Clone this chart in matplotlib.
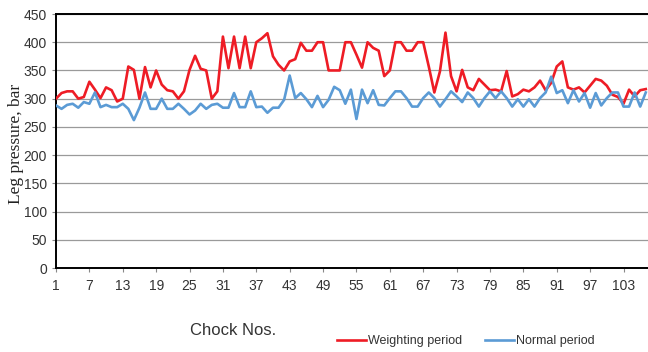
import matplotlib.pyplot as plt

# leg pressure per chock
chocks = list(range(1, 108))
weighting = [300, 310, 313, 313, 300, 303, 330, 316, 301, 320, 315, 295, 300, 357, 351, 300, 356, 320, 350, 325,
             315, 313, 300, 313, 351, 376, 353, 350, 300, 313, 410, 354, 410, 354, 410, 354, 400, 407, 416, 375,
             360, 350, 366, 370, 399, 385, 385, 400, 400, 350, 350, 350, 400, 400, 378, 355, 400, 390, 385, 340,
             350, 400, 400, 385, 385, 400, 400, 357, 311, 348, 417, 340, 313, 351, 320, 315, 335, 325, 315, 316,
             313, 349, 304, 308, 316, 313, 320, 332, 315, 328, 357, 366, 320, 316, 320, 311, 323, 335, 332, 323,
             307, 303, 291, 316, 304, 315, 317]
normal = [288, 282, 289, 291, 284, 294, 291, 311, 285, 289, 285, 285, 291, 282, 262, 284, 311, 282, 282, 300,
          282, 282, 291, 282, 272, 279, 291, 282, 289, 291, 284, 284, 310, 285, 285, 313, 285, 286, 275, 284,
          284, 298, 341, 301, 310, 299, 285, 305, 285, 298, 321, 315, 291, 316, 264, 316, 292, 315, 289, 288,
          301, 313, 313, 301, 286, 286, 301, 311, 301, 286, 299, 313, 304, 294, 311, 301, 286, 301, 313, 301,
          313, 301, 286, 299, 286, 299, 286, 301, 311, 339, 310, 315, 292, 315, 295, 310, 284, 310, 288, 301,
          311, 311, 286, 286, 311, 286, 311]
xticks = list(range(1, 108, 6))

plt.rcParams['font.family'] = ['Liberation Sans', 'DejaVu Sans']

fig = plt.figure(figsize=(6.48, 3.52), dpi=100)
ax = fig.add_axes([0.0864, 0.2386, 0.9136, 0.7216])

ax.plot(chocks, weighting, color='#ee1c25', lw=1.9, label='Weighting period', zorder=3)
ax.plot(chocks, normal, color='#5b9bd5', lw=1.9, label='Normal period', zorder=3)

ax.set_xlim(1, 107.4)
ax.set_ylim(0, 450)
ax.set_yticks(range(0, 451, 50))
ax.set_xticks(xticks)
ax.tick_params(labelsize=10, length=3, color='#888888', colors='#333333')
ax.tick_params(axis='x', pad=5)
ax.yaxis.grid(True, color='#9a9a9a', lw=0.9)
ax.set_axisbelow(True)
for s in ['left', 'bottom', 'top']:
    ax.spines[s].set_linewidth(1.4)
    ax.spines[s].set_color('black')
ax.spines['right'].set_visible(False)

fig.text(0.024, 0.59, 'Leg pressure, bar', family=['Liberation Serif', 'DejaVu Serif'], fontsize=12.5,
         color='#222222', rotation=90, ha='center', va='center')
fig.text(0.36, 0.062, 'Chock Nos.', fontsize=12, color='#333333', ha='center', va='center')

fig.legend(loc='center left', bbox_to_anchor=(0.503, 0.031), ncol=2, frameon=False, fontsize=9,
           handlelength=2.3, handletextpad=0.2, columnspacing=1.8, labelcolor='#333333')

fig.savefig('out.png', dpi=100)
